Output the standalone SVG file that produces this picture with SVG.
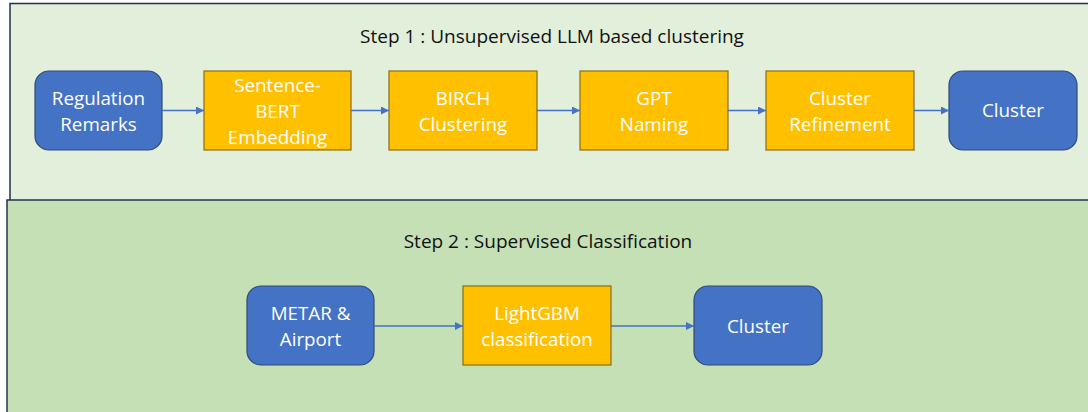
<svg xmlns="http://www.w3.org/2000/svg" width="1088" height="412" viewBox="0 0 1088 412">
  <style>
    .panel1 { fill: #E2EFDA; stroke: #1F3350; stroke-width: 1.5; }
    .panel2 { fill: #C5E0B4; stroke: #1F3350; stroke-width: 1.5; }
    .title { font-family: "Open Sans", "Liberation Sans", sans-serif; font-size: 19px; fill: #111111; text-anchor: middle; }
    .term { fill: #4472C4; stroke: #2F4A78; stroke-width: 1.2; }
    .proc { fill: #FFC000; stroke: #8A6D12; stroke-width: 1.2; }
    .label { font-family: "Open Sans", "Liberation Sans", sans-serif; font-size: 18.8px; fill: #FFFFFF; text-anchor: middle; }
    .edge { stroke: #4472C4; stroke-width: 1.3; fill: none; marker-end: url(#arrow); }
  </style>
  <defs>
    <marker id="arrow" viewBox="0 0 8 8" refX="8" refY="4" markerWidth="8" markerHeight="8" markerUnits="userSpaceOnUse" orient="auto">
      <path d="M0,0 L8,4 L0,8 Z" fill="#4472C4"/>
    </marker>
  </defs>

  <!-- Step 1 panel -->
  <g id="step1">
    <rect class="panel1" x="10" y="3.5" width="1090" height="210"/>
    <text class="title" x="552" y="43">Step 1 : Unsupervised LLM based clustering</text>
  </g>

  <!-- Step 2 panel -->
  <g id="step2">
    <rect class="panel2" x="7" y="200" width="1093" height="220"/>
    <text class="title" x="548" y="248">Step 2 : Supervised Classification</text>
  </g>

  <g id="regulation-remarks">
    <rect class="term" x="35" y="71" width="127" height="79" rx="14"/>
    <text class="label" x="98.5" y="105">Regulation</text>
    <text class="label" x="98.5" y="131">Remarks</text>
  </g>

  <g id="sentence-bert">
    <rect class="proc" x="204" y="71" width="147" height="79"/>
    <text class="label" x="277.5" y="92">Sentence-</text>
    <text class="label" x="277.5" y="118">BERT</text>
    <text class="label" x="277.5" y="144">Embedding</text>
  </g>

  <g id="birch">
    <rect class="proc" x="389" y="71" width="148" height="79"/>
    <text class="label" x="463" y="105">BIRCH</text>
    <text class="label" x="463" y="131">Clustering</text>
  </g>

  <g id="gpt-naming">
    <rect class="proc" x="580" y="71" width="148" height="79"/>
    <text class="label" x="654" y="105">GPT</text>
    <text class="label" x="654" y="131">Naming</text>
  </g>

  <g id="cluster-refinement">
    <rect class="proc" x="766" y="71" width="148" height="79"/>
    <text class="label" x="840" y="105">Cluster</text>
    <text class="label" x="840" y="131">Refinement</text>
  </g>

  <g id="cluster-1">
    <rect class="term" x="949" y="71" width="128" height="79" rx="14"/>
    <text class="label" x="1013" y="117">Cluster</text>
  </g>

  <g id="metar-airport">
    <rect class="term" x="247" y="286" width="127" height="79" rx="14"/>
    <text class="label" x="310.5" y="320">METAR &amp;</text>
    <text class="label" x="310.5" y="346">Airport</text>
  </g>

  <g id="lightgbm">
    <rect class="proc" x="463" y="286" width="148" height="79"/>
    <text class="label" x="537" y="320">LightGBM</text>
    <text class="label" x="537" y="346">classification</text>
  </g>

  <g id="cluster-2">
    <rect class="term" x="694" y="286" width="128" height="79" rx="14"/>
    <text class="label" x="758" y="333">Cluster</text>
  </g>

  <!-- connectors -->
  <g id="connectors">
    <line class="edge" x1="162" y1="110.5" x2="204" y2="110.5"/>
    <line class="edge" x1="351" y1="110.5" x2="389" y2="110.5"/>
    <line class="edge" x1="537" y1="110.5" x2="580" y2="110.5"/>
    <line class="edge" x1="728" y1="110.5" x2="766" y2="110.5"/>
    <line class="edge" x1="914" y1="110.5" x2="949" y2="110.5"/>
    <line class="edge" x1="374" y1="326" x2="463" y2="326"/>
    <line class="edge" x1="611" y1="326" x2="694" y2="326"/>
  </g>
</svg>
